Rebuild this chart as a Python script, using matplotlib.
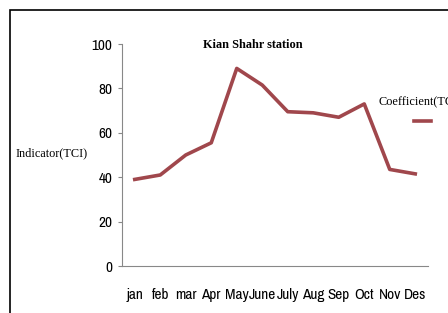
import matplotlib
matplotlib.use('Agg')
import matplotlib.pyplot as plt
from matplotlib.patches import Rectangle
from matplotlib.lines import Line2D

months = ['jan', 'feb', 'mar', 'Apr', 'May', 'June', 'July', 'Aug', 'Sep', 'Oct', 'Nov', 'Des']
tci = [39, 41, 50, 55.5, 89, 81.5, 69.5, 69, 67, 73, 43.5, 41.5]
yticks = [0, 20, 40, 60, 80, 100]

line_color = '#A0474C'
narrow = ['Archivo Narrow', 'Liberation Sans Narrow', 'DejaVu Sans']
serif = ['Liberation Serif', 'DejaVu Serif']

fig = plt.figure(figsize=(4.48, 3.13), dpi=100)
fig.patch.set_facecolor('white')

# outer frame (cut off on right and bottom)
fig.patches.append(Rectangle((9.5 / 448, -0.05), 1.2, 1 - 10 / 313 + 0.05,
                             transform=fig.transFigure, fill=False,
                             edgecolor='black', linewidth=1.2))

ax = fig.add_axes([122 / 448, 1 - 266 / 313, 306 / 448, 222 / 313])
x = list(range(len(months)))
ax.plot(x, tci, color=line_color, linewidth=2.6, solid_joinstyle='round')

ax.set_xlim(-0.5, len(months) - 0.5)
ax.set_ylim(0, 100)
ax.set_yticks(yticks)
ax.set_xticks(x)
ax.set_xticklabels(months, fontfamily=narrow, fontsize=11)
ax.set_yticklabels([str(v) for v in yticks], fontfamily=narrow, fontsize=11)
ax.tick_params(axis='x', length=0, pad=16)
ax.tick_params(axis='y', length=3, width=0.8, color='#888888', pad=4, direction='out')
for s in ['top', 'right']:
    ax.spines[s].set_visible(False)
for s in ['left', 'bottom']:
    ax.spines[s].set_color('#888888')
    ax.spines[s].set_linewidth(0.8)

fig.text(253 / 448, 1 - 45 / 313, 'Kian Shahr station', ha='center', va='center',
         fontfamily=serif, fontweight='bold', fontsize=8.8)
fig.text(16 / 448, 1 - 153 / 313, 'Indicator(TCI)', ha='left', va='center',
         fontfamily=serif, fontsize=8.8)
fig.text(378 / 448, 1 - 102 / 313, 'Coefficient(TCI)', ha='left', va='center',
         fontfamily=serif, fontsize=8.8)
fig.lines.append(Line2D([414 / 448, 431 / 448], [1 - 121 / 313, 1 - 121 / 313],
                        transform=fig.transFigure, color=line_color, linewidth=2.6))

fig.savefig('out.png', dpi=100)
